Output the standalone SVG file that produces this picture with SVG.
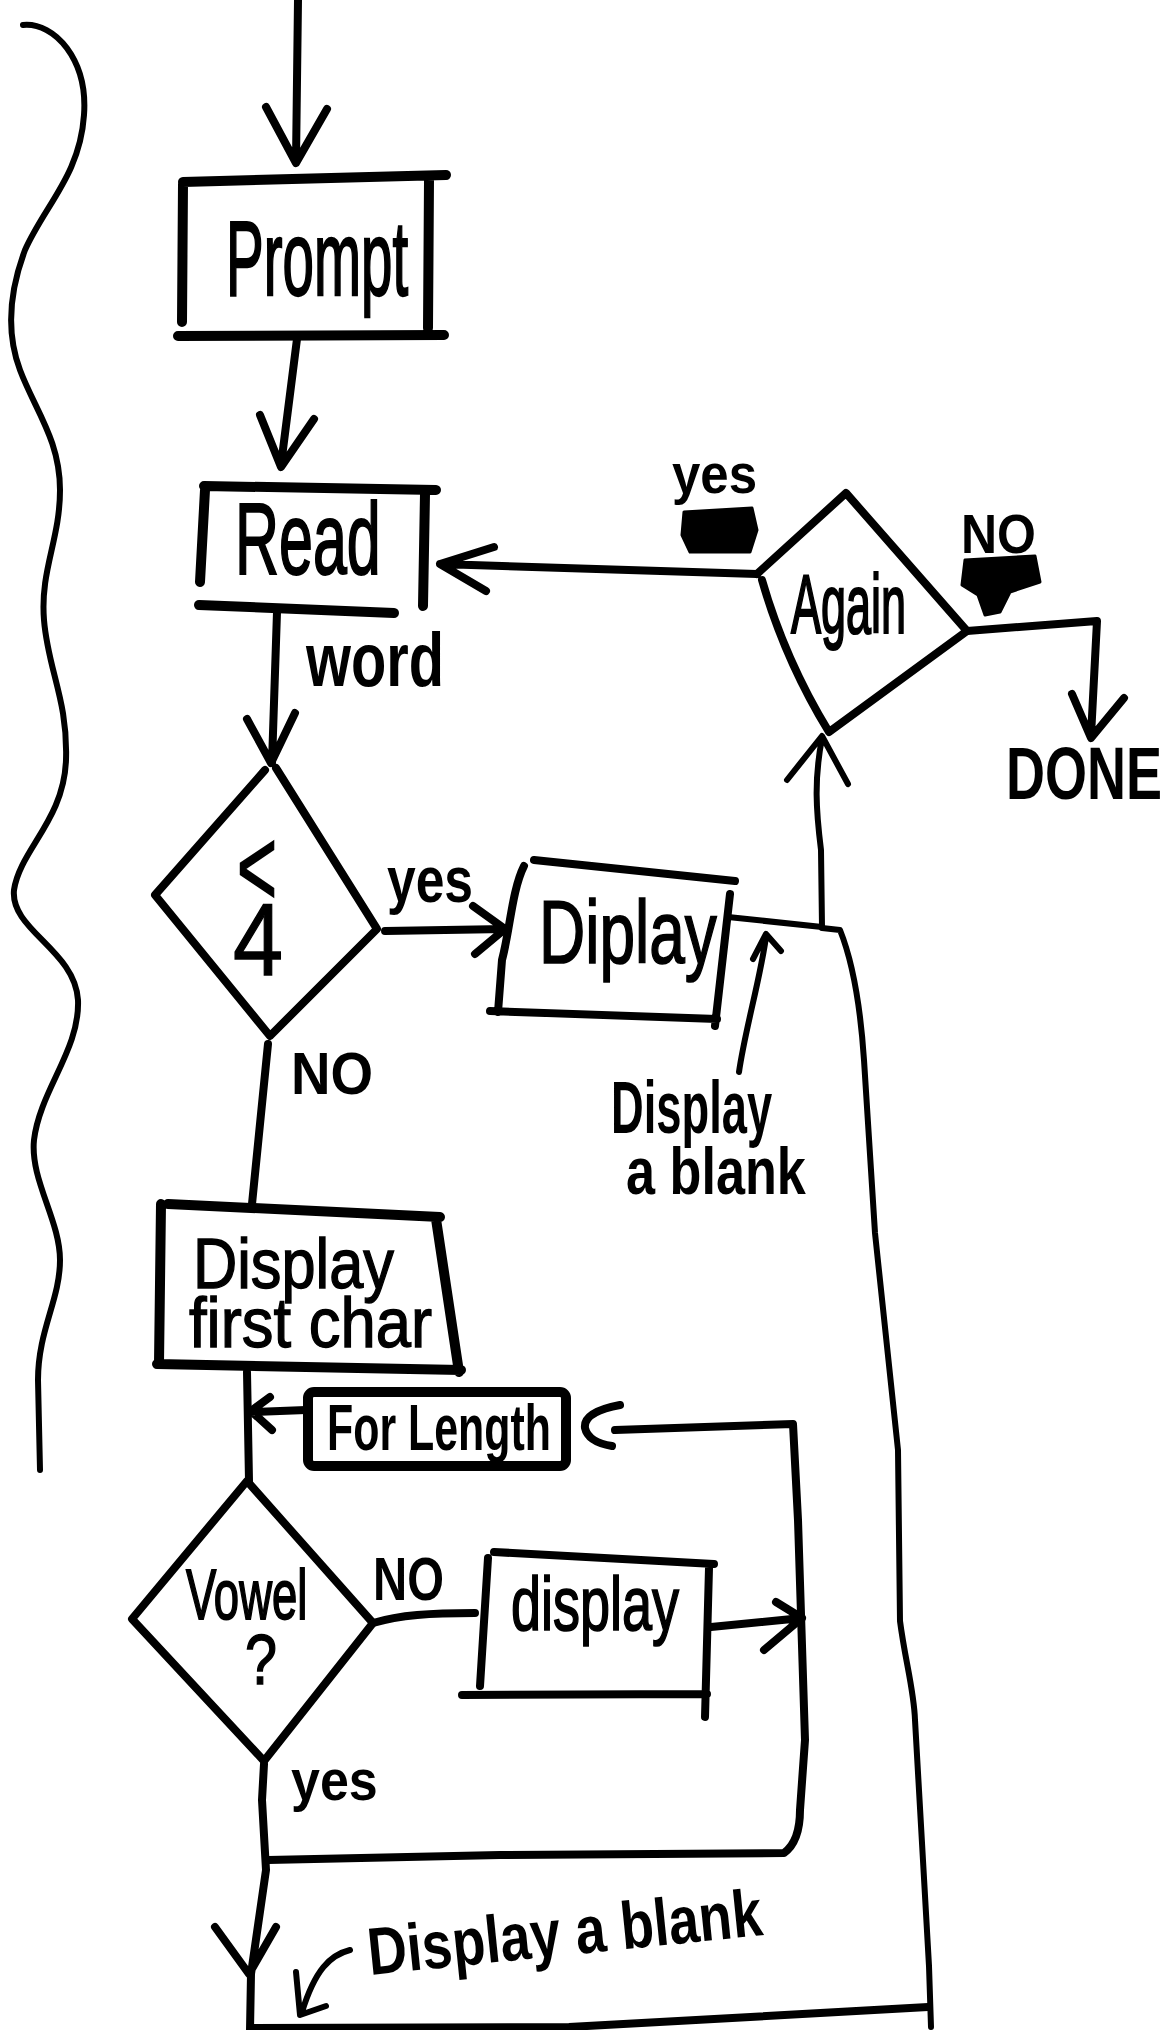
<svg xmlns="http://www.w3.org/2000/svg" width="1169" height="2030" viewBox="0 0 1169 2030">
<style>
.s{fill:none;stroke:#000;stroke-width:8;stroke-linecap:round;stroke-linejoin:round}
.t{fill:none;stroke:#000;stroke-width:6;stroke-linecap:round;stroke-linejoin:round}
.b{fill:none;stroke:#000;stroke-width:10;stroke-linecap:round;stroke-linejoin:round}
.k{fill:#000;stroke:#000;stroke-width:3;stroke-linejoin:round}
text{font-family:"Liberation Sans","DejaVu Sans",sans-serif;fill:#000}
.n{font-weight:normal;stroke:#000;stroke-width:1.2}
.w{font-weight:bold}
</style>
<rect width="1169" height="2030" fill="#fff"/>

<g id="brace">
<path class="t" d="M23,25 C55,22 88,60 84,115 C80,175 45,205 25,250 C10,290 5,330 20,370 C35,410 60,440 60,490 C60,540 40,570 44,620 C48,670 68,700 66,760 C64,820 20,850 14,890 C10,930 75,950 78,1000 C80,1050 40,1090 34,1140 C30,1180 60,1220 60,1260 C60,1300 38,1330 38,1380 L40,1470"/>
</g>

<g id="prompt">
<path class="b" d="M183,182 L446,175 M429,180 L428,328 M178,336 L444,335 M183,184 L182,322"/>
<text class="n" x="226" y="295" font-size="56.5" transform="matrix(1,0,0,1.88,0,-259.6)">Prompt</text>
</g>

<g id="read">
<path class="b" d="M204,486 L436,490 M425,494 L423,606 M199,605 L394,613 M205,490 L200,582"/>
<text class="n" x="235" y="574" font-size="61" transform="matrix(1,0,0,1.67,0,-384.6)">Read</text>
</g>

<g id="less4">
<path class="s" d="M265,770 L155,895 L270,1036 L377,929 L276,768"/>
<text class="n" x="237" y="905" font-size="68.5" transform="matrix(1,0,0,1.6,0,-543)">&lt;</text>
<text class="n" x="233" y="975" font-size="90" transform="matrix(1,0,0,1.13,0,-126.75)">4</text>
</g>

<g id="display1">
<path class="s" d="M534,860 L735,881 M730,894 L715,1026 M490,1011 L717,1019 M524,866 C512,890 510,930 502,960 L498,1012"/>
<text class="n" x="539" y="963" font-size="64" transform="matrix(1,0,0,1.4,0,-385.2)">Diplay</text>
</g>

<g id="again">
<path class="s" d="M757,574 L846,493 L967,631 L829,732 Q785,660 762,580"/>
<text class="n" x="791" y="633" font-size="45" transform="matrix(1,0,0,1.86,0,-544.4)">Again</text>
</g>

<g id="done">
<text class="w" x="1006" y="799" font-size="54" transform="matrix(1,0,0,1.37,0,-295.6)">DONE</text>
</g>

<g id="displayfirst">
<path class="b" d="M168,1204 L440,1217 M436,1219 L459,1372 M157,1364 L461,1370 M161,1204 L159,1363"/>
<text class="n" x="193" y="1288" font-size="61.3" transform="matrix(1,0,0,1.14,0,-180.3)">Display</text>
<text class="n" x="189" y="1347" font-size="63.4" transform="matrix(1,0,0,1.1,0,-134.7)">first char</text>
</g>

<g id="forlength">
<rect class="b" x="308" y="1392" width="258" height="74" rx="6"/>
<text class="w" x="327" y="1450" font-size="42.9" transform="matrix(1,0,0,1.5,0,-725)">For Length</text>
</g>

<g id="vowel">
<path class="s" d="M247,1481 L373,1623 L264,1761 L132,1619 Z"/>
<text class="n" x="186" y="1619" font-size="45.5" transform="matrix(1,0,0,1.53,0,-858.1)">Vowel</text>
<text class="n" x="245" y="1684" font-size="57.5" transform="matrix(1,0,0,1.24,0,-404.2)">?</text>
</g>

<g id="display2">
<path class="s" d="M494,1552 L714,1564 M709,1568 L705,1717 M462,1695 L707,1694 M488,1558 L480,1686"/>
<text class="n" x="511" y="1630" font-size="54" transform="matrix(1,0,0,1.4,0,-652)">display</text>
</g>

<g id="labels">
<text class="w" x="306" y="686" font-size="57.8" transform="matrix(1,0,0,1.3,0,-205.8)">word</text>
<text class="w" x="387" y="902" font-size="51.6" transform="matrix(1,0,0,1.25,0,-225.5)">yes</text>
<text class="w" x="291" y="1094" font-size="54.7" transform="matrix(1,0,0,1.07,0,-76.6)">NO</text>
<text class="w" x="611" y="1133" font-size="45.3" transform="matrix(1,0,0,1.64,0,-725.1)">Display</text>
<text class="w" x="626" y="1194" font-size="52.2" transform="matrix(1,0,0,1.29,0,-346.3)">a blank</text>
<text class="w" x="672" y="493" font-size="51" transform="matrix(1,0,0,1.1,0,-49.3)">yes</text>
<path class="k" d="M684,512 L752,508 L757,530 L750,552 L690,552 L682,535 Z"/>
<text class="w" x="961" y="553" font-size="50" transform="matrix(1,0,0,1.12,0,-66.4)">NO</text>
<path class="k" d="M965,560 L1035,556 L1040,582 L1010,592 L1000,612 L985,615 L978,595 L962,585 Z"/>
<text class="w" x="373" y="1600" font-size="47.3" transform="matrix(1,0,0,1.3,0,-480)">NO</text>
<text class="w" x="291" y="1800" font-size="52" transform="matrix(1,0,0,1.1,0,-180)">yes</text>
<text class="w" x="370" y="1975" font-size="54.4" transform="rotate(-5.8 370 1975) matrix(1,0,0,1.23,0,-454.25)">Display a blank</text>
</g>

<g id="connectors">
<path class="s" d="M298,0 L296,161 M266,107 L296,163 L327,109"/>
<path class="s" d="M297,339 L281,465 M260,415 L281,467 L314,419"/>
<path class="s" d="M277,612 L272,763 M247,719 L271,763 L295,713"/>
<path class="s" d="M385,931 L505,929 M473,906 L505,929 L475,954"/>
<path class="s" d="M268,1044 L252,1204"/>
<path class="t" d="M728,917 L822,927"/>
<path class="t" d="M822,927 L821,850 C816,810 814,780 822,738 M787,780 L822,736 L848,784"/>
<path class="t" d="M822,928 L840,930 C852,960 860,1000 864,1060 L875,1233 L898,1450 L900,1621 C905,1660 914,1690 915,1720 L929,1966 L931,2027"/>
<path class="s" d="M252,2028 L569,2027 L928,2007"/>
<path class="s" d="M757,574 L440,564 M494,547 L440,564 L486,591"/>
<path class="s" d="M967,631 L1097,621 L1091,736 M1072,694 L1091,738 L1124,698"/>
<path class="t" d="M739,1072 C745,1030 760,980 766,937 M753,959 L766,934 L781,951"/>
<path class="s" d="M247,1372 L249,1481"/>
<path class="s" d="M306,1410 L251,1412 M270,1397 L251,1411 L272,1430"/>
<path class="s" d="M373,1623 C400,1615 430,1613 475,1613"/>
<path class="s" d="M711,1627 L802,1618 M776,1602 L802,1618 L764,1650"/>
<path class="s" d="M268,1860 L500,1855 L784,1853 C795,1845 800,1830 800,1810 L805,1740 L798,1520 L793,1424 L615,1430 M620,1405 Q583,1412 585,1428 Q588,1442 612,1446"/>
<path class="s" d="M264,1764 L262,1800 L266,1870 L251,1974 L250,2030 M215,1927 L249,1974 L276,1927"/>
<path class="t" d="M350,1950 C330,1955 315,1970 302,2012 M296,1972 L300,2015 L326,2006"/>
</g>
</svg>
